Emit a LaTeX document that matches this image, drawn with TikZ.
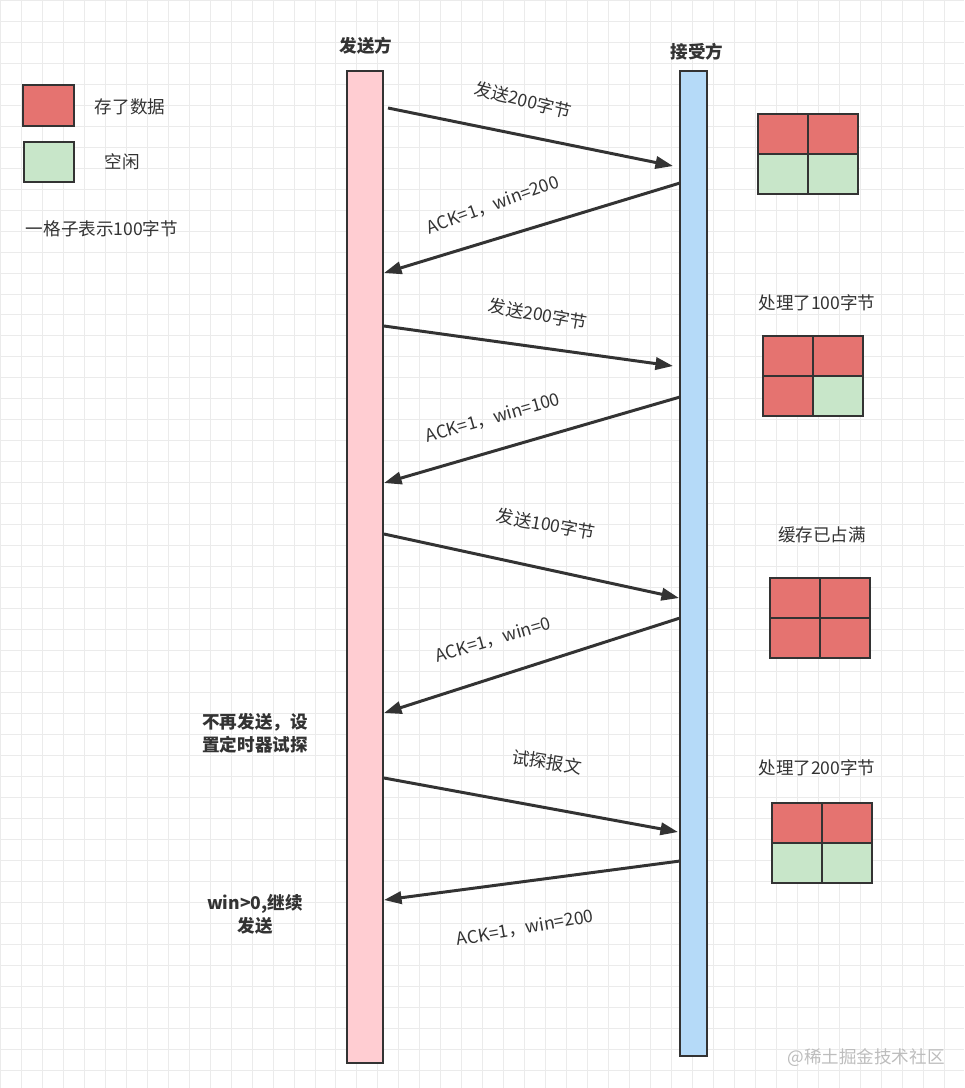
\documentclass[tikz,border=0pt]{standalone}
\usepackage{fontspec}
\setmainfont{Noto Sans CJK SC}
\usepackage{tikz}
\usetikzlibrary{arrows.meta}
\definecolor{edgegray}{HTML}{333333}
\definecolor{datared}{HTML}{E57370}
\definecolor{freegreen}{HTML}{C8E6C9}
\definecolor{sndpink}{HTML}{FFCDD2}
\definecolor{rcvblue}{HTML}{B5DAF8}
\definecolor{gridgray}{HTML}{EBEBEB}
\definecolor{markgray}{HTML}{BDBDBD}

\begin{document}
\begin{tikzpicture}[x=0.02cm, y=-0.02cm,
    msg/.style={draw=edgegray, line width=1.7pt, -{Triangle[length=10pt,width=7pt]}},
    lbl/.style={text=edgegray, font=\fontsize{10}{12}\selectfont},
    note/.style={text=edgegray, font=\bfseries\fontsize{10}{13}\selectfont, align=center},
    cell/.style={draw=edgegray, line width=1.6pt},
    bar/.style={draw=edgegray, line width=1.2pt, inner sep=0pt}]
      \useasboundingbox (0,0) rectangle (964,1088);
      \fill[white] (0,0) rectangle (964,1088);
      \draw[gridgray, line width=0.5pt, step=0.42cm] (0,0) grid (964,1088);

      % legend
      \draw[cell, fill=datared] (23,85) rectangle (74,126);
      \draw[cell, fill=freegreen] (24,142) rectangle (74,182);
      \node[lbl] (leg1) at (130,107) {存了数据};
      \node[lbl] (leg2) at (122,162) {空闲};
      \node[lbl] (leg3) at (102,229) {一格子表示100字节};

      % the two ends
      \node[bar, fill=sndpink, minimum width=0.72cm, minimum height=19.84cm] (snd) at (365,567) {};
      \node[bar, fill=rcvblue, minimum width=0.54cm, minimum height=19.7cm] (rcv) at (693.5,563.5) {};
      \node[note] (sndname) at (366,46) {发送方};
      \node[note] (rcvname) at (697,52) {接受方};

      % points where the messages leave and arrive
      \coordinate (s1) at (388,108);  \coordinate (r1) at (673,166);
      \coordinate (r2) at (680,183);  \coordinate (s2) at (384,273);
      \coordinate (s3) at (384,326);  \coordinate (r3) at (673,366);
      \coordinate (r4) at (680,397);  \coordinate (s4) at (384,483);
      \coordinate (s5) at (384,534);  \coordinate (r5) at (679,598);
      \coordinate (r6) at (680,618);  \coordinate (s6) at (384,713);
      \coordinate (s7) at (384,778);  \coordinate (r7) at (678,832);
      \coordinate (r8) at (680,861);  \coordinate (s8) at (384,900);

      \draw[msg] (s1) -- (r1);
      \draw[msg] (r2) -- (s2);
      \draw[msg] (s3) -- (r3);
      \draw[msg] (r4) -- (s4);
      \draw[msg] (s5) -- (r5);
      \draw[msg] (r6) -- (s6);
      \draw[msg] (s7) -- (r7);
      \draw[msg] (r8) -- (s8);

      \node[lbl, rotate=-14] (m1) at (523,100) {发送200字节};
      \node[lbl, rotate=20] (m2) at (493,205) {ACK=1，win=200};
      \node[lbl, rotate=-10] (m3) at (538,314) {发送200字节};
      \node[lbl, rotate=16] (m4) at (493,418) {ACK=1，win=100};
      \node[lbl, rotate=-10] (m5) at (546,524) {发送100字节};
      \node[lbl, rotate=16] (m6) at (493,640) {ACK=1，win=0};
      \node[lbl, rotate=-9] (m7) at (547,762) {试探报文};
      \node[lbl, rotate=10] (m8) at (525,928) {ACK=1，win=200};

      \node[note] (stop) at (255,733) {不再发送，设\\置定时器试探};
      \node[note] (resume) at (255,914) {win>0,继续\\发送};

      % receive buffer, one cell = 100 bytes
      \node[lbl] (buf2) at (817,303) {处理了100字节};
      \node[lbl] (buf3) at (822,535) {缓存已占满};
      \node[lbl] (buf4) at (817,768) {处理了200字节};
      \foreach \bx/\by/\ca/\cb/\cc/\cd in {
          758/114/datared/datared/freegreen/freegreen,
          763/336/datared/datared/datared/freegreen,
          770/578/datared/datared/datared/datared,
          772/803/datared/datared/freegreen/freegreen} {
        \draw[cell, fill=\ca] (\bx,\by) rectangle ++(50,40);
        \draw[cell, fill=\cb] (\bx+50,\by) rectangle ++(50,40);
        \draw[cell, fill=\cc] (\bx,\by+40) rectangle ++(50,40);
        \draw[cell, fill=\cd] (\bx+50,\by+40) rectangle ++(50,40);
      }

      \node[text=markgray, font=\fontsize{10}{12}\selectfont] (mark) at (866,1058) {@稀土掘金技术社区};
    \end{tikzpicture}
\end{document}
